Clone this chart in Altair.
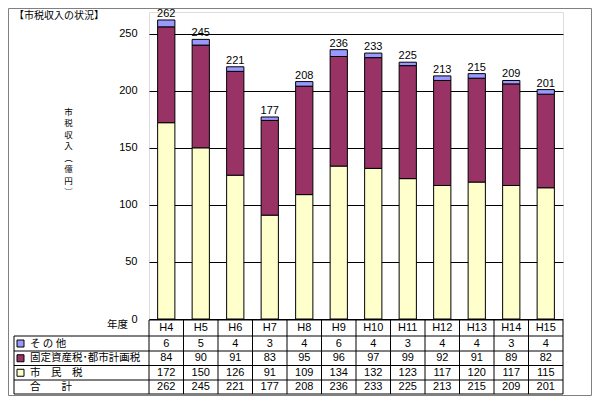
import altair as alt
import pandas as pd

years = ["H4", "H5", "H6", "H7", "H8", "H9", "H10", "H11", "H12", "H13", "H14", "H15"]
other = [6, 5, 4, 3, 4, 6, 4, 3, 4, 4, 3, 4]
fixed = [84, 90, 91, 83, 95, 96, 97, 99, 92, 91, 89, 82]
citizen = [172, 150, 126, 91, 109, 134, 132, 123, 117, 120, 117, 115]
total = [262, 245, 221, 177, 208, 236, 233, 225, 213, 215, 209, 201]

series_names = ["市民税", "固定資産税・都市計画税", "その他"]
series_colors = ["#FFFFCC", "#993366", "#9999FF"]
row_labels = ["そ の 他", "固定資産税･都市計画税", "市　民　税", "合　　計"]
title_text = "【市税収入の状況】"
ytitle_chars = ["市", "税", "収", "入", "︵", "億", "円", "︶"]
yticks = [0, 50, 100, 150, 200, 250]

FONT = "Noto Sans CJK JP"
NUMFONT = "Liberation Sans"
W, H = 414, 307

rows = []
for i, y in enumerate(years):
    rows.append({"year": y, "series": series_names[0], "value": citizen[i], "ord": 0})
    rows.append({"year": y, "series": series_names[1], "value": fixed[i], "ord": 1})
    rows.append({"year": y, "series": series_names[2], "value": other[i], "ord": 2})
long_df = pd.DataFrame(rows)
wide_df = pd.DataFrame({"year": years, "other": other, "fixed": fixed,
                        "citizen": citizen, "total": total})

xenc = alt.X("year:N", sort=years, axis=None,
             scale=alt.Scale(paddingInner=0.5, paddingOuter=0.25))
yscale = alt.Scale(domain=[0, 269], nice=False, zero=True)

bars = alt.Chart(long_df).mark_bar(stroke="black", strokeWidth=1).encode(
    x=xenc,
    y=alt.Y("value:Q", stack="zero", scale=yscale,
            axis=alt.Axis(values=yticks, grid=True, gridColor="black", gridWidth=1,
                          domain=False, ticks=False, labelPadding=12,
                          labelFontSize=11, labelColor="black", labelFont=NUMFONT,
                          labelFontWeight="normal",
                          title=ytitle_chars, titleAngle=0, titleAlign="center",
                          titleBaseline="top", titleX=-81, titleY=95,
                          titleLineHeight=11.5, titleFontSize=8.5,
                          titleFontWeight="normal", titleFont=FONT)),
    color=alt.Color("series:N", scale=alt.Scale(domain=series_names, range=series_colors),
                    legend=None),
    order=alt.Order("ord:Q"),
)

totals = alt.Chart(wide_df).mark_text(baseline="alphabetic", dy=-3, fontSize=11,
                                      font=NUMFONT, fontWeight="normal",
                                      color="black").encode(
    x=xenc, y=alt.Y("total:Q", scale=yscale), text="total:Q")

layers = [bars, totals]

# table rows (positions relative to plot origin at page y=12)
row_fields = ["other", "fixed", "citizen", "total"]
row_centers = [331.5, 346.25, 360.75, 375]
header_center = 316
layers.append(alt.Chart(wide_df).mark_text(fontSize=11, font=NUMFONT, fontWeight="normal",
                                           color="black").encode(
    x=xenc, y=alt.value(header_center), text="year:N"))
for f, c in zip(row_fields, row_centers):
    layers.append(alt.Chart(wide_df).mark_text(fontSize=11, font=NUMFONT, fontWeight="normal",
                                               color="black").encode(
        x=xenc, y=alt.value(c), text=f"{f}:Q"))

one = pd.DataFrame({"a": [0]})
# row label texts
for lab, c in zip(row_labels, row_centers):
    layers.append(alt.Chart(one).mark_text(fontSize=10.5, font=FONT, fontWeight="normal",
                                           color="black", align="left").encode(
        x=alt.value(-119), y=alt.value(c), text=alt.value(lab)))
# swatches
for col, c in zip([series_colors[2], series_colors[1], series_colors[0]], row_centers[:3]):
    layers.append(alt.Chart(one).mark_square(size=49, fill=col, stroke="black",
                                             strokeWidth=1, opacity=1).encode(
        x=alt.value(-128.5), y=alt.value(c)))
# 年度
layers.append(alt.Chart(one).mark_text(fontSize=10.5, font=FONT, fontWeight="normal",
                                       color="black", align="right").encode(
    x=alt.value(-21), y=alt.value(313), text=alt.value("年度")))
# title
layers.append(alt.Chart(one).mark_text(fontSize=10, font=FONT, fontWeight="normal",
                                       color="black", align="left").encode(
    x=alt.value(-135), y=alt.value(4), text=alt.value(title_text)))

# table grid lines
step = W / len(years)
hlines = [(0, W, 308), (-135, W, 324), (-135, W, 339), (-135, W, 353.5),
          (-135, W, 368), (-135, W, 382)]
for x1, x2, yy in hlines:
    layers.append(alt.Chart(one).mark_rule(color="black", strokeWidth=1).encode(
        x=alt.value(x1), x2=alt.value(x2), y=alt.value(yy)))
for i in range(len(years) + 1):
    layers.append(alt.Chart(one).mark_rule(color="black", strokeWidth=1).encode(
        x=alt.value(i * step), y=alt.value(308), y2=alt.value(382)))
layers.append(alt.Chart(one).mark_rule(color="black", strokeWidth=1).encode(
    x=alt.value(-135), y=alt.value(324), y2=alt.value(382)))

# outer frame
layers.append(alt.Chart(one).mark_rect(filled=False, stroke="#808080", strokeWidth=1).encode(
    x=alt.value(-140.5), x2=alt.value(442.5), y=alt.value(-3.5), y2=alt.value(383.5)))

chart = alt.layer(*layers).properties(
    width=W, height=H,
    autosize=alt.AutoSizeParams(type="none"),
    padding={"left": 141, "top": 4, "right": 29, "bottom": 77},
    background="white",
).configure_view(fill="#C0C0C0", stroke="transparent").configure(font=FONT)

chart.save("out.html", embed_options={"renderer": "svg", "actions": False})
